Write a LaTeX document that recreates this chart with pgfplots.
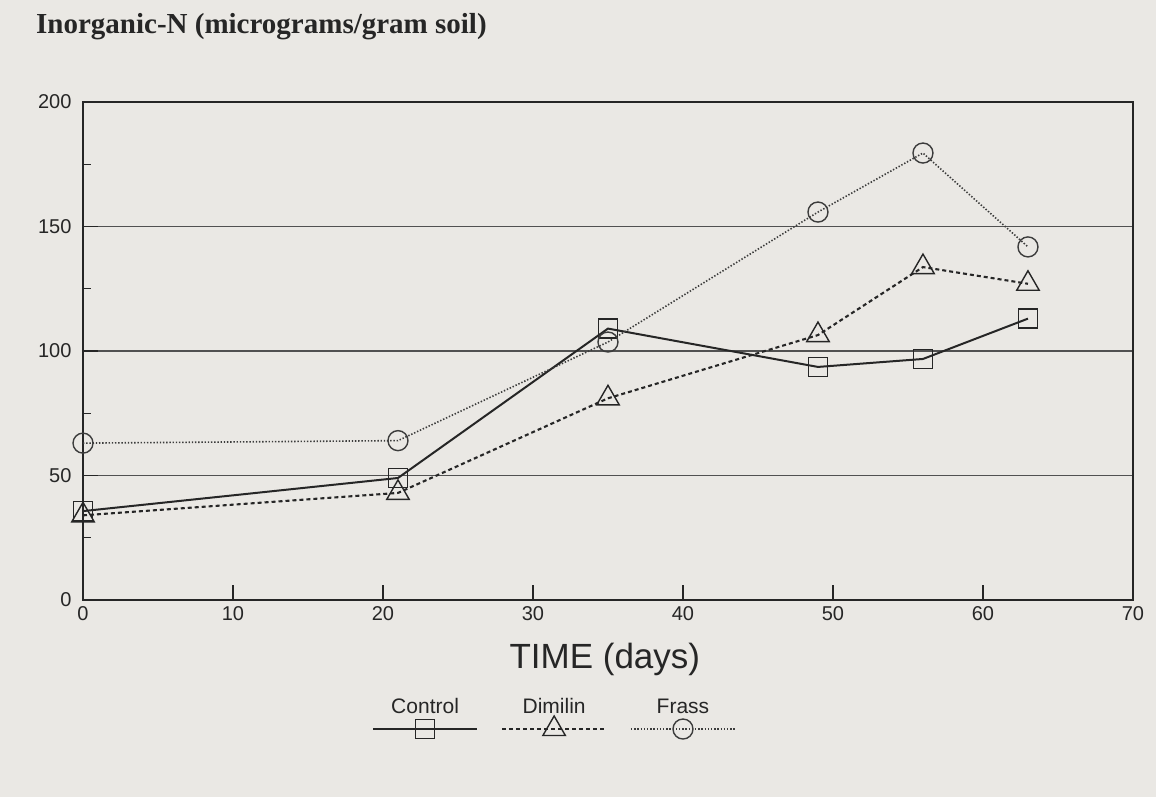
\documentclass[border=0pt]{standalone}
\usepackage{pgfplots}
\pgfplotsset{compat=1.18}
\usepackage{fontspec}
\setmainfont{Liberation Sans}
\newfontfamily\titlefont{Liberation Serif}
\definecolor{paper}{HTML}{EAE8E4}
\definecolor{ink}{HTML}{262626}

% legend sample: a line with one mark in its middle and the name set above it
\newcommand{\sample}[2]{%
  \draw[#1, mark repeat=2, mark phase=2] plot coordinates {(0pt,0pt) (52pt,0pt) (104pt,0pt)};
  \node[anchor=base, font=\fontsize{21}{25}\selectfont, text=ink, inner sep=0pt] at (52pt,16pt) {#2};}
\pgfplotsset{
  controlleg/.style={legend image code/.code={\sample{##1}{Control}}},
  dimilinleg/.style={legend image code/.code={\sample{##1}{Dimilin}}},
  frassleg/.style={legend image code/.code={\sample{##1}{Frass}}},
}

\begin{document}
\begin{tikzpicture}[x=1pt,y=1pt]
\fill[paper] (-83,-197) rectangle (1073,600);
\path[use as bounding box] (-83,-197) rectangle (1073,600);
\node[anchor=west, inner sep=0pt, text=ink, font=\titlefont\bfseries\fontsize{29}{34}\selectfont] at (-47,573) {Inorganic-N (micrograms/gram soil)};
\begin{axis}[
  at={(0pt,0pt)}, anchor=south west,
  width=1050pt, height=498pt, scale only axis,
  xmin=0, xmax=70, ymin=0, ymax=200,
  xtick={0,10,...,70}, ytick={0,50,...,200},
  minor y tick num=1,
  tick pos=left, tick align=inside,
  major tick length=15pt, minor tick length=8pt,
  ymajorgrids, grid style={ink!80, line width=1.1pt},
  axis line style={ink, line width=1.6pt},
  every tick/.style={ink, line width=1.3pt},
  /pgf/number format/assume math mode=true,
  tick label style={font=\fontsize{20}{24}\selectfont, text=ink},
  xticklabel style={yshift=-3pt},
  yticklabel style={xshift=-8pt},
  xlabel={TIME (days)},
  xlabel style={font=\fontsize{35}{40}\selectfont, text=ink, at={(axis description cs:0.497,-0.12)}, anchor=center},
  clip=false,
  legend columns=3,
  legend style={at={(axis description cs:0.449,-0.196)}, anchor=north, draw=none, fill=none,
    inner sep=0pt, nodes={inner sep=0pt},
    /tikz/every even column/.append style={column sep=22pt}},
]
\addplot[ink, line width=2pt, mark=square, mark size=9.5pt, mark options={solid, line width=1.4pt}, controlleg]
  coordinates {(0,35.7) (21,49) (35,109) (49,93.6) (56,96.8) (63,113)};
\addlegendentry{}
\addplot[ink, line width=2.1pt, dash pattern=on 4pt off 3pt, mark=triangle, mark size=13pt, mark options={solid, line width=1.4pt}, dimilinleg]
  coordinates {(0,34) (21,43) (35,81) (49,106.4) (56,133.7) (63,127)};
\addlegendentry{}
\addplot[ink!90, line width=1.6pt, dash pattern=on 1.4pt off 1.8pt, mark=o, mark size=10pt, mark options={solid, line width=1.4pt}, frassleg]
  coordinates {(0,63) (21,64) (35,103.6) (49,155.8) (56,179.5) (63,141.8)};
\addlegendentry{}
\end{axis}
\end{tikzpicture}
\end{document}
